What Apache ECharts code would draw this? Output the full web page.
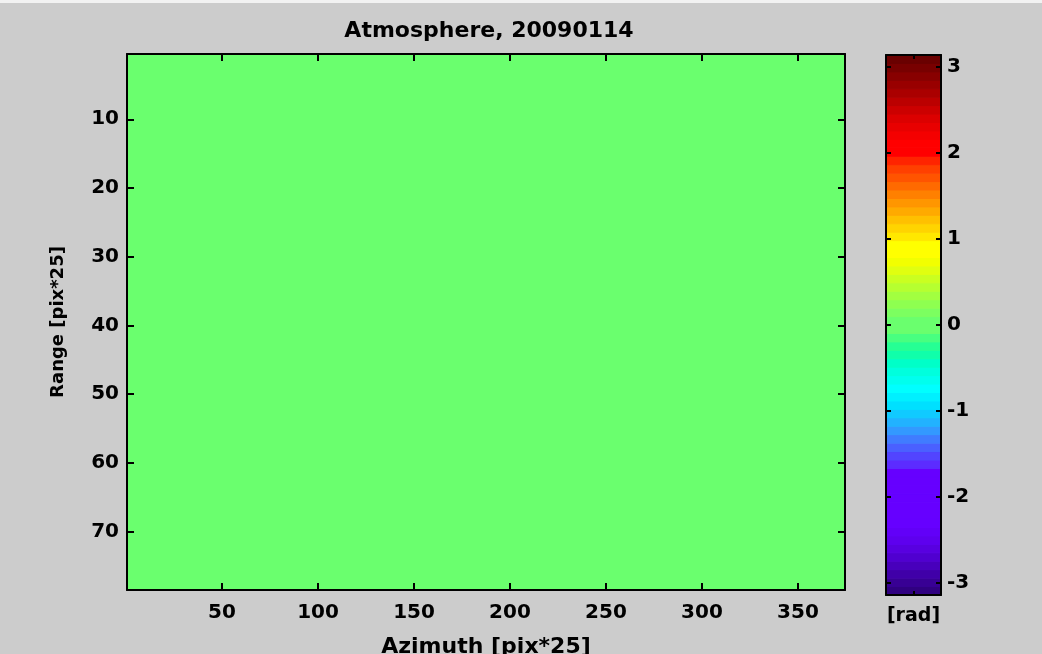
<!DOCTYPE html>
<html>
<head>
<meta charset="utf-8">
<title>Atmosphere, 20090114</title>
<script src="https://cdn.jsdelivr.net/npm/echarts@6/dist/echarts.min.js"></script>
<style>
  html, body { margin: 0; padding: 0; background: #cccccc; }
  #chart { width: 1042px; height: 654px; }
</style>
</head>
<body>
<div id="chart"></div>
<script>
// Phase screen: a uniform field over the whole image extent (azimuth x range pixels)
const azimuthExtent = [0.5, 374.5];
const rangeExtent = [0.5, 78.5];
const fieldPhase = [0];           // rad

// Tick labels
const azimuthTicks = [50, 100, 150, 200, 250, 300, 350];
const rangeTicks = [10, 20, 30, 40, 50, 60, 70];
const phaseTicks = [-3, -2, -1, 0, 1, 2, 3];

// 64-level phase colormap, from -pi (bottom) to +pi (top)
const colormap = [
  '#300080','#380094','#4000a8','#4800bc','#5000d0','#5800e0','#5e00ee','#6200f8',
  '#6600ff','#6600ff','#6600ff','#6600ff','#6600ff','#6600ff','#6600ff','#5c2cff',
  '#5244ff','#4a60ff','#407cff','#3399ff','#22b2ff','#10caff','#00e0ff','#00f0ff',
  '#00ffff','#00ffee','#00ffdd','#00ffc8','#10ffaa','#26ff94','#48ff80','#6aff6e',
  '#6aff6e','#7cff60','#8eff50','#a2ff40','#b6ff30','#caff20','#e0ff10','#f2ff00',
  '#ffff00','#ffff00','#ffe800','#ffd400','#ffc000','#ffaa00','#ff9600','#ff8000',
  '#ff6a00','#ff5400','#ff4000','#ff2400','#ff0000','#ff0000','#f40000','#e80000',
  '#dc0000','#cc0000','#bb0000','#aa0000','#990000','#880000','#780000','#6a0000'
];

const PI = Math.PI;
const bandWidth = 2 * PI / colormap.length;
function phaseColor(v) {
  let k = Math.floor((v + PI) / bandWidth);
  k = Math.max(0, Math.min(colormap.length - 1, k));
  return colormap[k];
}

const fieldData = fieldPhase.map(p => [azimuthExtent[0], azimuthExtent[1], rangeExtent[0], rangeExtent[1], p]);
const colorbarData = colormap.map((c, k) => [0, 1, -PI + k * bandWidth, -PI + (k + 1) * bandWidth, k]);

const FONT = 'DejaVu Sans';
const tickFont = { color: '#000', fontFamily: FONT, fontWeight: 'bold', fontSize: 20 };
const blackLine = { show: true, onZero: false, lineStyle: { color: '#000', width: 2 } };
const inTick = (len, vals) => ({ show: true, inside: true, length: len, customValues: vals, lineStyle: { color: '#000', width: 2 } });

function rectItem(api, color) {
  const p0 = api.coord([api.value(0), api.value(2)]);
  const p1 = api.coord([api.value(1), api.value(3)]);
  return {
    type: 'rect',
    shape: {
      x: Math.min(p0[0], p1[0]), y: Math.min(p0[1], p1[1]),
      width: Math.abs(p1[0] - p0[0]), height: Math.abs(p1[1] - p0[1])
    },
    // stroke in the fill colour closes the seams between adjacent bands
    style: { fill: color, stroke: color, lineWidth: 1 }
  };
}

const chart = echarts.init(document.getElementById('chart'), null, { renderer: 'canvas' });

chart.setOption({
  backgroundColor: '#cccccc',
  animation: false,
  title: {
    text: 'Atmosphere, 20090114',
    left: 484, textAlign: 'center', top: 15,
    textStyle: { color: '#000', fontFamily: FONT, fontWeight: 'bold', fontSize: 22 }
  },
  graphic: [
    { type: 'rect', left: 0, top: 0, shape: { width: 1042, height: 3 }, style: { fill: '#f2f2f2' }, silent: true }
  ],
  grid: [
    { left: 127, top: 54, width: 718, height: 536, show: false, containLabel: false, outerBoundsMode: 'none' },
    { left: 886, top: 55, width: 55, height: 540, show: false, containLabel: false, outerBoundsMode: 'none' }
  ],
  xAxis: [
    {
      gridIndex: 0, type: 'value', position: 'bottom', min: azimuthExtent[0], max: azimuthExtent[1], z: 10,
      axisLine: blackLine, axisTick: inTick(7, azimuthTicks), splitLine: { show: false },
      axisLabel: Object.assign({ customValues: azimuthTicks, margin: 13 }, tickFont),
      name: 'Azimuth [pix*25]', nameLocation: 'middle', nameGap: 46,
      nameTextStyle: { color: '#000', fontFamily: FONT, fontWeight: 'bold', fontSize: 22 }
    },
    {
      gridIndex: 0, type: 'value', position: 'top', min: azimuthExtent[0], max: azimuthExtent[1], z: 10,
      axisLine: blackLine, axisTick: inTick(7, azimuthTicks), axisLabel: { show: false }, splitLine: { show: false }
    },
    {
      gridIndex: 1, type: 'value', position: 'bottom', min: 0, max: 1, z: 10,
      axisLine: blackLine, axisTick: inTick(4, [0.5]), axisLabel: { show: false }, splitLine: { show: false },
      name: '[rad]', nameLocation: 'middle', nameGap: 12,
      nameTextStyle: { color: '#000', fontFamily: FONT, fontWeight: 'bold', fontSize: 19 }
    },
    {
      gridIndex: 1, type: 'value', position: 'top', min: 0, max: 1, z: 10,
      axisLine: blackLine, axisTick: inTick(4, [0.5]), axisLabel: { show: false }, splitLine: { show: false }
    }
  ],
  yAxis: [
    {
      gridIndex: 0, type: 'value', position: 'left', inverse: true, min: rangeExtent[0], max: rangeExtent[1], z: 10,
      axisLine: blackLine, axisTick: inTick(7, rangeTicks), splitLine: { show: false },
      axisLabel: Object.assign({ customValues: rangeTicks, margin: 8 }, tickFont),
      name: 'Range [pix*25]', nameLocation: 'middle', nameGap: 60, nameRotate: 90,
      nameTextStyle: { color: '#000', fontFamily: FONT, fontWeight: 'bold', fontSize: 18 }
    },
    {
      gridIndex: 0, type: 'value', position: 'right', inverse: true, min: rangeExtent[0], max: rangeExtent[1], z: 10,
      axisLine: blackLine, axisTick: inTick(7, rangeTicks), axisLabel: { show: false }, splitLine: { show: false }
    },
    {
      gridIndex: 1, type: 'value', position: 'left', min: -PI, max: PI, z: 10,
      axisLine: blackLine, axisTick: inTick(5, phaseTicks), axisLabel: { show: false }, splitLine: { show: false }
    },
    {
      gridIndex: 1, type: 'value', position: 'right', min: -PI, max: PI, z: 10,
      axisLine: blackLine, axisTick: inTick(5, phaseTicks), splitLine: { show: false },
      axisLabel: Object.assign({ customValues: phaseTicks, margin: 6 }, tickFont)
    }
  ],
  series: [
    {
      type: 'custom', name: 'phase', xAxisIndex: 0, yAxisIndex: 0, z: 2,
      data: fieldData,
      renderItem: (params, api) => rectItem(api, phaseColor(api.value(4)))
    },
    {
      type: 'custom', name: 'colorbar', xAxisIndex: 2, yAxisIndex: 2, z: 2,
      data: colorbarData,
      renderItem: (params, api) => rectItem(api, colormap[api.value(4)])
    }
  ]
});
</script>
</body>
</html>
